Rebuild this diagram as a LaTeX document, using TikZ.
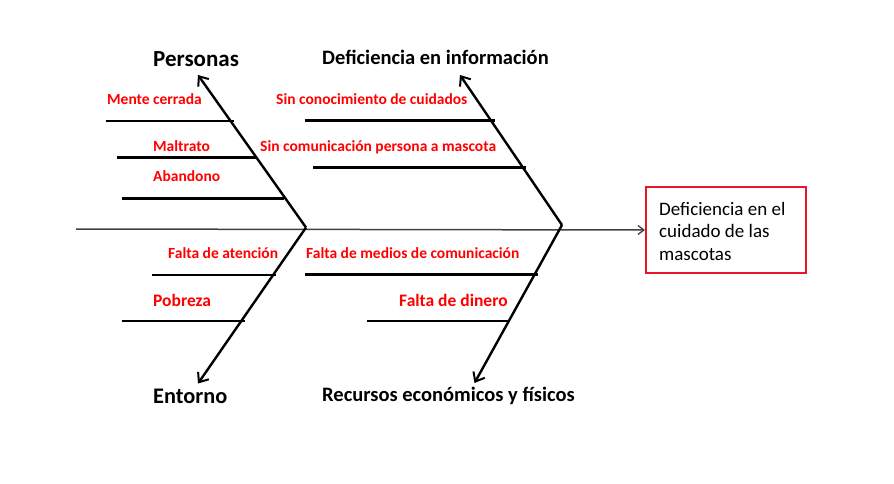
\documentclass[tikz,border=0pt]{standalone}
\usepackage{fontspec}
\setmainfont{Carlito}
\usetikzlibrary{arrows.meta}
\definecolor{boxred}{RGB}{228,22,40}
\begin{document}
\begin{tikzpicture}[
  x=1pt, y=-1pt,
  bone/.style={line width=2.4pt, -{Straight Barb[length=8pt,width=13pt,line width=2pt]}},
  rib/.style={line width=2.6pt},
  spine/.style={line width=1.5pt, draw=black!75, -{Straight Barb[length=6pt,width=9pt,line width=1.3pt]}},
  head/.style={anchor=base west, inner sep=0pt, font=\fontsize{20.5}{24}\selectfont\bfseries},
  bighead/.style={head, font=\fontsize{23}{27}\selectfont\bfseries},
  cause/.style={anchor=base west, inner sep=0pt, text=red, font=\fontsize{15.5}{18}\selectfont\bfseries},
  bigcause/.style={cause, font=\fontsize{17.5}{20}\selectfont\bfseries},
  effect/.style={draw=boxred, line width=2pt, minimum width=160pt, minimum height=86pt}
]
\useasboundingbox (0,0) rectangle (894,484);
% spine and effect
\coordinate (tail) at (76,229);
\coordinate (jL) at (306,227.5);
\coordinate (jR) at (562,225);
\node[effect] (efecto) at (726,230) {};
\node[anchor=base west, inner sep=0pt, align=left, font=\fontsize{19}{22.5}\selectfont]
  (efectotxt) at (659,260) {Deficiencia en el\\cuidado de las\\mascotas};
\draw[spine] (tail) -- (efecto.west);
% bones
\coordinate (tipPer) at (198,75);
\coordinate (tipEnt) at (198,383.5);
\coordinate (tipInf) at (460,75);
\coordinate (tipRec) at (474.5,383);
\draw[bone] (jL) -- (tipPer);
\draw[bone] (jL) -- (tipEnt);
\draw[bone] (jR) -- (tipInf);
\draw[bone] (jR) -- (tipRec);
\node[bighead] (personas) at (153,66.5) {Personas};
\node[bighead, font=\fontsize{22.3}{26}\selectfont\bfseries] (entorno) at (153,403) {Entorno};
\node[head] (informacion) at (322,64.5) {Deficiencia en información};
\node[head] (recursos) at (322,401.5) {Recursos económicos y físicos};
% ribs
\draw[rib] (105.5,121) -- (234,121);
\draw[rib] (117,157.3) -- (256,157.3);
\draw[rib] (121.5,198.3) -- (283.5,198.3);
\draw[rib] (305,120.7) -- (495,120.7);
\draw[rib] (313,167.3) -- (526,167.3);
\draw[rib] (151.5,275) -- (276,275);
\draw[rib] (121.5,321) -- (245,321);
\draw[rib] (305,274.3) -- (537.5,274.3);
\draw[rib] (366.5,321) -- (507.5,321);
% causes
\node[cause] (mente) at (107,105) {Mente cerrada};
\node[cause] (maltrato) at (153,151.5) {Maltrato};
\node[cause] (abandono) at (153,181.5) {Abandono};
\node[cause] (conocimiento) at (276,105) {Sin conocimiento de cuidados};
\node[cause] (comunicacion) at (260,151.5) {Sin comunicación persona a mascota};
\node[cause] (atencion) at (168,258) {Falta de atención};
\node[bigcause] (pobreza) at (153,306.5) {Pobreza};
\node[cause] (medios) at (306,258) {Falta de medios de comunicación};
\node[bigcause] (dinero) at (399,306.5) {Falta de dinero};
\end{tikzpicture}
\end{document}
